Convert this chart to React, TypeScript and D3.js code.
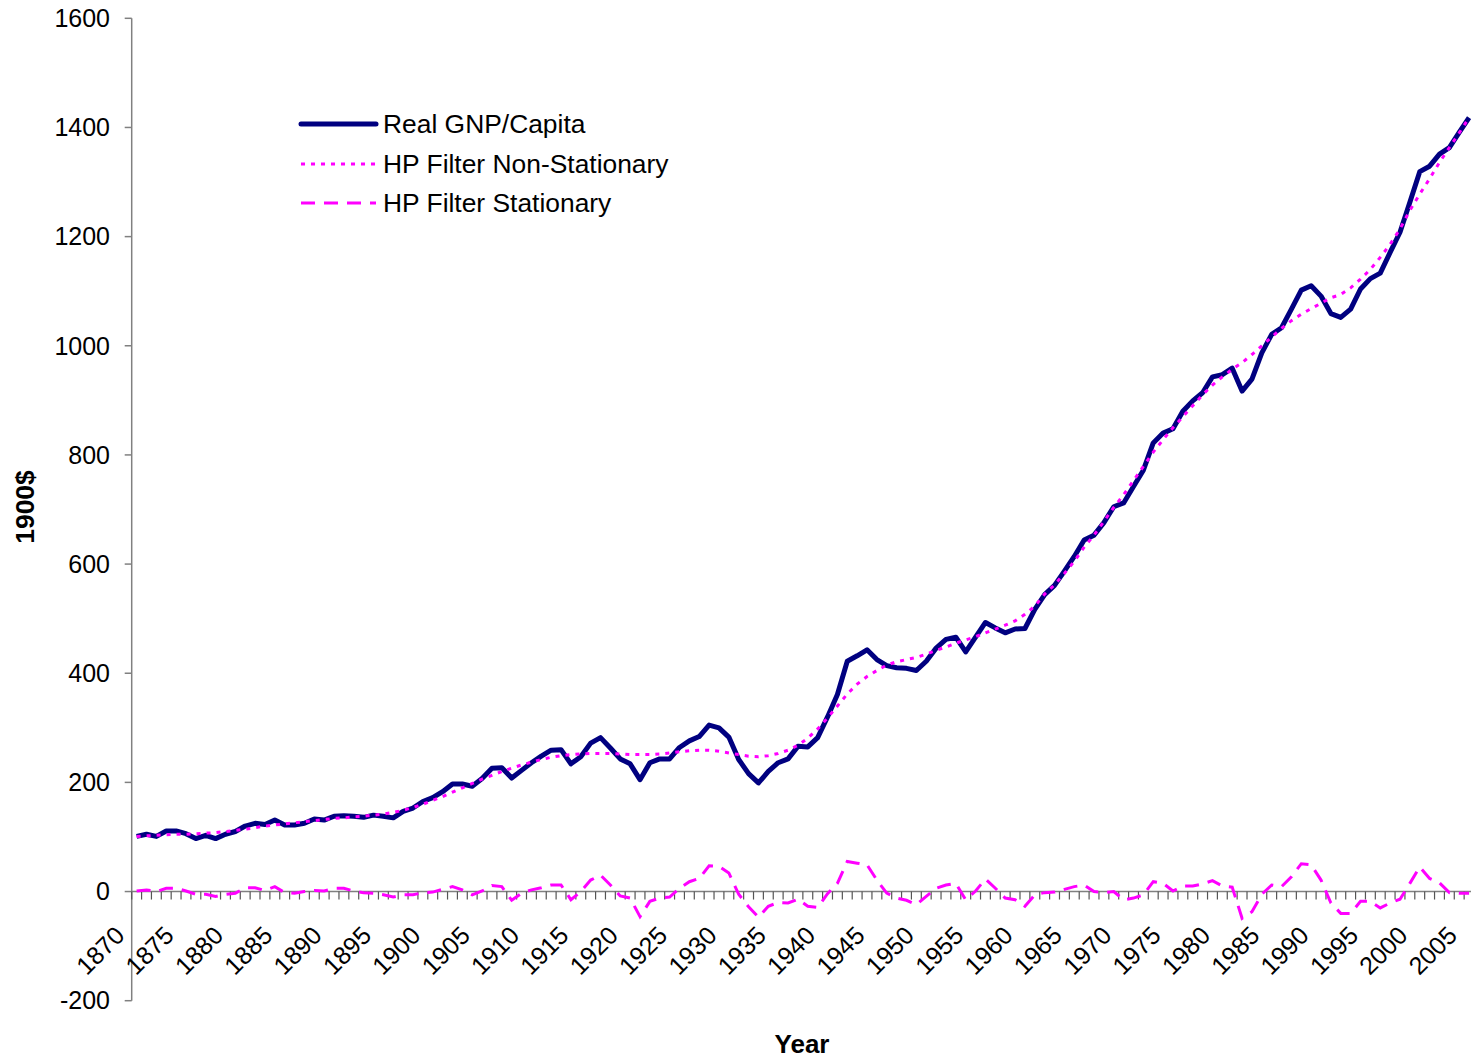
import * as d3 from "d3";

// years on the category axis
const years = d3.range(1870, 2006);
const yearLabels = [
  "1870", "1875", "1880", "1885", "1890", "1895", "1900", "1905", "1910",
  "1915", "1920", "1925", "1930", "1935", "1940", "1945", "1950", "1955",
  "1960", "1965", "1970", "1975", "1980", "1985", "1990", "1995", "2000", "2005",
];
const yTicks = [-200, 0, 200, 400, 600, 800, 1000, 1200, 1400, 1600];

// Real GNP per capita, 1900$
const gnp = [
  101, 105, 101, 111, 111, 106, 97, 103, 97, 105,
  110, 120, 125, 123, 131, 122, 122, 125, 133, 131,
  138, 139, 138, 136, 140, 138, 135, 147, 153, 165,
  172, 183, 197, 197, 193, 207, 226, 227, 208, 222,
  236, 248, 259, 260, 234, 247, 272, 282, 263, 243,
  234, 205, 236, 243, 243, 264, 276, 284, 305, 300,
  283, 242, 216, 199, 220, 236, 243, 266, 265, 282,
  320, 361, 422, 432, 443, 425, 414, 410, 409, 405,
  422, 446, 462, 466, 439, 466, 493, 483, 474, 481,
  482, 517, 544, 561, 587, 614, 644, 653, 676, 705,
  712, 742, 772, 822, 840, 848, 880, 899, 914, 943,
  947, 959, 917, 939, 987, 1021, 1033, 1067, 1102, 1110,
  1091, 1059, 1052, 1067, 1104, 1123, 1133, 1171, 1208, 1263,
  1319, 1329, 1351, 1363, 1391, 1418,
];

// HP filter trend (non-stationary part)
const hpTrend = [
  101, 102, 103, 104, 105, 105, 106, 107, 108, 110,
  112, 114, 117, 120, 122, 124, 126, 128, 130, 132,
  134, 135, 137, 138, 140, 142, 145, 149, 154, 160,
  167, 174, 182, 190, 198, 206, 213, 220, 226, 232,
  237, 242, 246, 249, 251, 252, 253, 253, 253, 252,
  251, 251, 251, 252, 254, 256, 258, 259, 259, 257,
  254, 251, 248, 247, 249, 253, 259, 268, 281, 298,
  318, 340, 362, 380, 394, 405, 415, 421, 425, 429,
  435, 442, 448, 455, 461, 467, 474, 481, 488, 496,
  508, 523, 545, 562, 583, 605, 631, 653, 678, 704,
  727, 753, 779, 805, 828, 850, 870, 890, 910, 928,
  943, 957, 969, 984, 1000, 1016, 1032, 1046, 1058, 1068,
  1078, 1088, 1094, 1106, 1122, 1140, 1162, 1186, 1214, 1248,
  1278, 1306, 1336, 1363, 1390, 1418,
];

// HP filter cycle (stationary part)
const hpCycle = [
  1, 3, 0, 6, 6, 1, -5, -5, -9, -5,
  -3, 7, 7, 2, 9, -2, -3, 0, 2, 1,
  6, 6, 1, -2, -3, -6, -10, -6, -6, -2,
  -1, 4, 9, 3, -6, 1, 11, 9, -16, -3,
  3, 7, 12, 12, -15, 0, 21, 30, 12, -8,
  -12, -46, -18, -12, -10, 6, 18, 24, 47, 46,
  34, -5, -28, -47, -27, -20, -21, -14, -27, -29,
  -4, 15, 55, 52, 49, 21, -3, -12, -16, -24,
  -9, 6, 12, 15, -15, 1, 23, 6, -12, -15,
  -27, -6, -2, -1, 4, 9, 12, 0, -2, 0,
  -15, -12, -6, 18, 15, 1, 10, 10, 14, 20,
  10, 8, -49, -37, -5, 12, 9, 27, 51, 49,
  21, -21, -40, -40, -18, -18, -30, -21, -14, 15,
  45, 24, 16, -2, -3, -3,
];

const W = 1471;
const H = 1063;
const FONT = "'Liberation Sans', Arial, sans-serif";
const NAVY = "#000080";
const MAGENTA = "#FF00FF";
const AXIS = "#808080";

const App = () => {
  const x = d3.scaleLinear().domain([1869.5, 2005.5]).range([131.7, 131.7 + 136 * 9.87]);
  const y = d3.scaleLinear().domain([-200, 1600]).range([1000.7, 18.3]);

  const line = (vals: number[]) =>
    d3
      .line<number>()
      .x((d, i) => x(years[i]))
      .y((d) => y(d))(vals) as string;

  const tickPos = d3.range(1869.5, 2006.5, 1);

  const legend = [
    { label: "Real GNP/Capita", color: NAVY, width: 5, dash: "none", yy: 124 },
    { label: "HP Filter Non-Stationary", color: MAGENTA, width: 3, dash: "4,6", yy: 164 },
    { label: "HP Filter Stationary", color: MAGENTA, width: 3, dash: "14,9", yy: 203 },
  ];

  return (
    <div style={{ position: "absolute", left: 0, top: 0 }}>
      <svg width={W} height={H} style={{ display: "block", background: "#fff" }}>
        {/* y axis */}
        <line x1={x.range()[0]} x2={x.range()[0]} y1={y(1600)} y2={y(-200)} stroke={AXIS} strokeWidth={1.5} />
        {yTicks.map((t) => (
          <g key={t}>
            <line x1={x.range()[0] - 7} x2={x.range()[0]} y1={y(t)} y2={y(t)} stroke={AXIS} strokeWidth={1.5} />
            <text
              x={110}
              y={y(t)}
              dy="0.35em"
              textAnchor="end"
              fontFamily={FONT}
              fontSize={25}
              fill="#000"
            >
              {t}
            </text>
          </g>
        ))}

        {/* x axis on the zero line */}
        <line x1={x.range()[0]} x2={W} y1={y(0)} y2={y(0)} stroke={AXIS} strokeWidth={1.5} />
        {tickPos.map((t) => (
          <line key={t} x1={x(t)} x2={x(t)} y1={y(0)} y2={y(0) + 8} stroke="#555" strokeWidth={1.2} />
        ))}
        {yearLabels.map((lab) => {
          const px = x(+lab) - 10.6;
          const py = 937;
          return (
            <text
              key={lab}
              x={px}
              y={py}
              textAnchor="end"
              transform={`rotate(-45,${px},${py})`}
              fontFamily={FONT}
              fontSize={25}
              fill="#000"
            >
              {lab}
            </text>
          );
        })}

        {/* series */}
        <path d={line(hpCycle)} fill="none" stroke={MAGENTA} strokeWidth={3} strokeDasharray="14,9" />
        <path d={line(gnp)} fill="none" stroke={NAVY} strokeWidth={5} strokeLinejoin="round" />
        <path d={line(hpTrend)} fill="none" stroke={MAGENTA} strokeWidth={3} strokeDasharray="4,6" />

        {/* axis titles */}
        <text
          x={802}
          y={1053}
          textAnchor="middle"
          fontFamily={FONT}
          fontSize={26}
          fontWeight="bold"
        >
          Year
        </text>
        <text
          transform="translate(34,507) rotate(-90)"
          textAnchor="middle"
          fontFamily={FONT}
          fontSize={26.5}
          fontWeight="bold"
        >
          1900$
        </text>

        {/* legend */}
        {legend.map((l) => (
          <g key={l.label}>
            <line
              x1={301}
              x2={376}
              y1={l.yy}
              y2={l.yy}
              stroke={l.color}
              strokeWidth={l.width}
              strokeDasharray={l.dash}
              strokeLinecap={l.dash === "none" ? "round" : "butt"}
            />
            <text x={383} y={l.yy} dy="0.35em" fontFamily={FONT} fontSize={26.4} fill="#000">
              {l.label}
            </text>
          </g>
        ))}
      </svg>
    </div>
  );
};

export default App;
